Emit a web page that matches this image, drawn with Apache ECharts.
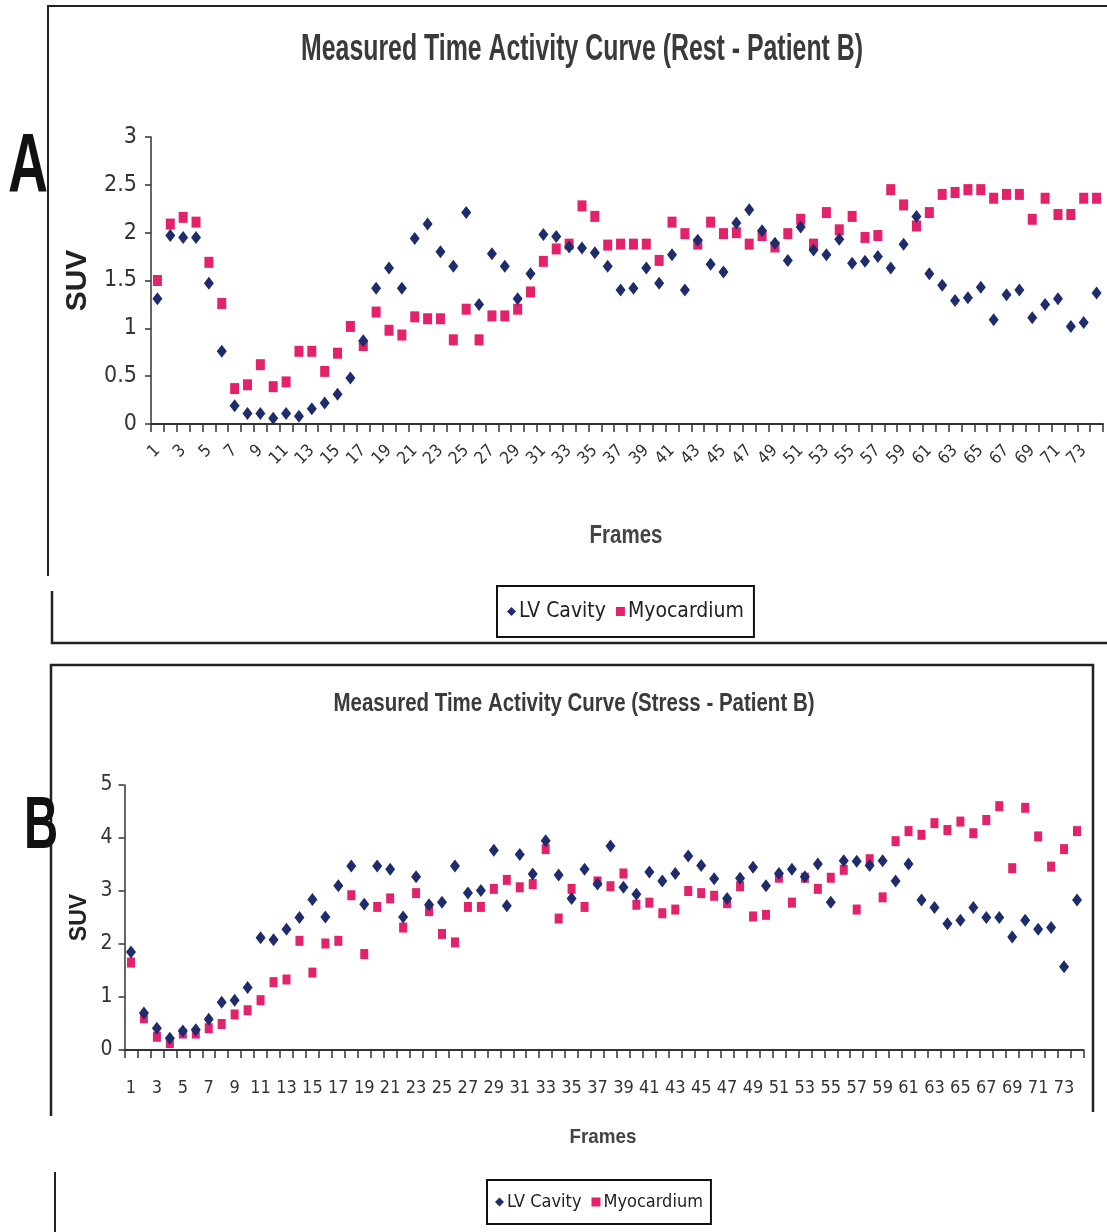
<!DOCTYPE html>
<html lang="en">
<head>
    <meta charset="UTF-8">
    <title>Measured Time Activity Curve - Patient B</title>
    <script src="https://cdn.jsdelivr.net/npm/echarts@6.0.0/dist/echarts.min.js"></script>
    <style>
        html, body { margin: 0; padding: 0; background: #fff; }
        #chart { width: 1107px; height: 1232px; }
    </style>
</head>
<body>
<div id="chart"></div>

<script>
    // frame numbers along the x axis (both panels)
    const frames = [1, 2, 3, 4, 5, 6, 7, 8, 9, 10, 11, 12, 13, 14, 15, 16, 17, 18, 19, 20,
        21, 22, 23, 24, 25, 26, 27, 28, 29, 30, 31, 32, 33, 34, 35, 36, 37, 38, 39, 40,
        41, 42, 43, 44, 45, 46, 47, 48, 49, 50, 51, 52, 53, 54, 55, 56, 57, 58, 59, 60,
        61, 62, 63, 64, 65, 66, 67, 68, 69, 70, 71, 72, 73, 74];

    const restTicks = [0, 0.5, 1, 1.5, 2, 2.5, 3];
    const stressTicks = [0, 1, 2, 3, 4, 5];

    // A: rest
    const restLV = [1.31, 1.97, 1.95, 1.95, 1.47, 0.76, 0.19, 0.11, 0.11, 0.06,
        0.11, 0.08, 0.16, 0.22, 0.31, 0.48, 0.87, 1.42, 1.63, 1.42,
        1.94, 2.09, 1.80, 1.65, 2.21, 1.25, 1.78, 1.65, 1.31, 1.57,
        1.98, 1.96, 1.85, 1.84, 1.79, 1.65, 1.40, 1.42, 1.63, 1.47,
        1.77, 1.40, 1.92, 1.67, 1.59, 2.10, 2.24, 2.02, 1.89, 1.71,
        2.06, 1.82, 1.77, 1.93, 1.68, 1.70, 1.75, 1.63, 1.88, 2.17,
        1.57, 1.45, 1.29, 1.32, 1.43, 1.09, 1.35, 1.40, 1.11, 1.25,
        1.31, 1.02, 1.06, 1.37];
    const restMyo = [1.50, 2.09, 2.16, 2.11, 1.69, 1.26, 0.37, 0.41, 0.62, 0.39,
        0.44, 0.76, 0.76, 0.55, 0.74, 1.02, 0.82, 1.17, 0.98, 0.93,
        1.12, 1.10, 1.10, 0.88, 1.20, 0.88, 1.13, 1.13, 1.20, 1.38,
        1.70, 1.83, 1.88, 2.28, 2.17, 1.87, 1.88, 1.88, 1.88, 1.71,
        2.11, 1.99, 1.88, 2.11, 1.99, 2.00, 1.88, 1.97, 1.85, 1.99,
        2.14, 1.88, 2.21, 2.03, 2.17, 1.95, 1.97, 2.45, 2.29, 2.07,
        2.21, 2.40, 2.42, 2.45, 2.45, 2.36, 2.40, 2.40, 2.14, 2.36,
        2.19, 2.19, 2.36, 2.36];

    // B: stress
    const stressLV = [1.85, 0.70, 0.41, 0.22, 0.36, 0.38, 0.58, 0.90, 0.94, 1.18,
        2.12, 2.08, 2.28, 2.50, 2.84, 2.51, 3.10, 3.47, 2.75, 3.47,
        3.41, 2.51, 3.27, 2.74, 2.79, 3.47, 2.96, 3.01, 3.77, 2.72,
        3.69, 3.32, 3.95, 3.30, 2.86, 3.41, 3.13, 3.85, 3.07, 2.94,
        3.36, 3.19, 3.33, 3.66, 3.48, 3.23, 2.86, 3.24, 3.45, 3.10,
        3.33, 3.41, 3.27, 3.51, 2.79, 3.57, 3.56, 3.48, 3.57, 3.19,
        3.51, 2.83, 2.69, 2.38, 2.45, 2.69, 2.50, 2.50, 2.13, 2.45,
        2.28, 2.31, 1.57, 2.83];
    const stressMyo = [1.65, 0.60, 0.25, 0.13, 0.31, 0.31, 0.41, 0.49, 0.67, 0.75,
        0.94, 1.28, 1.33, 2.06, 1.46, 2.01, 2.06, 2.92, 1.81, 2.70,
        2.86, 2.31, 2.96, 2.62, 2.19, 2.03, 2.70, 2.70, 3.04, 3.21,
        3.07, 3.13, 3.79, 2.48, 3.04, 2.70, 3.18, 3.09, 3.33, 2.74,
        2.78, 2.58, 2.65, 3.00, 2.96, 2.91, 2.77, 3.09, 2.52, 2.55,
        3.25, 2.78, 3.25, 3.04, 3.25, 3.40, 2.65, 3.60, 2.88, 3.94,
        4.13, 4.06, 4.28, 4.15, 4.31, 4.09, 4.34, 4.60, 3.43, 4.57,
        4.03, 3.46, 3.79, 4.13];

    const NAVY = '#1f2c6c';
    const PINK = '#e3226b';
    const INK = '#333';
    const NARROW = "'DejaVu Sans Condensed', 'Liberation Sans Narrow', sans-serif";
    const BOLD = "'Liberation Sans', Arial, sans-serif";

    const measureCtx = document.createElement('canvas').getContext('2d');

    /**
     * Squeezed bold text (the original uses a narrow bold face we don't have),
     * scaled horizontally so it spans the given width, centred on cx
     */
    function narrow_text(text, cx, top, size, width, fill) {
        const font = 'bold ' + size + 'px ' + BOLD;
        measureCtx.font = font;
        const w = measureCtx.measureText(text).width;
        return {
            type: 'text', x: cx, y: top, scaleX: width / w,
            style: {text: text, font: font, fill: fill, align: 'center', verticalAlign: 'middle'}
        };
    }

    /**
     * Category x axis in the old spreadsheet style: ticks on the boundaries,
     * every other frame labelled
     */
    function frame_axis(gridIndex, labelOpts) {
        return {
            type: 'category',
            gridIndex: gridIndex,
            data: frames,
            boundaryGap: true,
            axisLine: {lineStyle: {color: INK, width: 2}},
            axisTick: {show: true, interval: 0, length: 8, lineStyle: {color: INK, width: 1.5}},
            axisLabel: Object.assign({interval: 1, color: INK, fontFamily: NARROW}, labelOpts),
            splitLine: {show: false}
        };
    }

    function suv_axis(gridIndex, ticks, fontSize, margin, nameGap, nameSize) {
        return {
            type: 'value',
            gridIndex: gridIndex,
            min: ticks[0],
            max: ticks[ticks.length - 1],
            interval: ticks[1] - ticks[0],
            name: 'SUV',
            nameLocation: 'middle',
            nameRotate: 90,
            nameGap: nameGap,
            nameMoveOverlap: false,
            nameTextStyle: {fontFamily: BOLD, fontWeight: 'bold', fontSize: nameSize, color: '#222'},
            axisLine: {show: true, lineStyle: {color: INK, width: 1.5}},
            axisTick: {show: true, length: 6, lineStyle: {color: INK, width: 1.5}},
            axisLabel: {color: INK, fontFamily: NARROW, fontSize: fontSize, margin: margin},
            splitLine: {show: false}
        };
    }

    function dots(name, data, axisIndex, symbol, size, color) {
        return {
            name: name,
            type: 'scatter',
            xAxisIndex: axisIndex,
            yAxisIndex: axisIndex,
            data: data,
            symbol: symbol,
            symbolSize: size,
            itemStyle: {color: color, opacity: 1},
            z: symbol === 'diamond' ? 3 : 2
        };
    }

    function legend_box(left, top, fontSize, padding) {
        return {
            left: left,
            top: top,
            orient: 'horizontal',
            itemWidth: 9,
            itemHeight: 9,
            itemGap: 10,
            padding: padding,
            borderColor: '#111',
            borderWidth: 2,
            textStyle: {fontFamily: NARROW, fontSize: fontSize, color: '#222', padding: [0, 0, 0, -2]},
            data: [
                {name: 'LV Cavity', icon: 'diamond', itemStyle: {color: NAVY, opacity: 1}},
                {name: 'Myocardium', icon: 'rect', itemStyle: {color: PINK, opacity: 1}}
            ],
            selectedMode: false
        };
    }

    const myChart = echarts.init(document.getElementById('chart'));

    myChart.setOption({
        animation: false,
        backgroundColor: '#fff',
        legend: [
            legend_box(497, 586, 21, [15, 10, 15, 10]),
            legend_box(487, 1180, 18, [13, 8, 13, 8])
        ],
        grid: [
            {left: 151, top: 137, width: 952, height: 287},
            {left: 124.5, top: 785, width: 959, height: 265}
        ],
        xAxis: [
            frame_axis(0, {rotate: 45, fontSize: 17, margin: 24}),
            frame_axis(1, {fontSize: 18, margin: 29})
        ],
        yAxis: [
            suv_axis(0, restTicks, 23, 14, 58, 30),
            suv_axis(1, stressTicks, 21, 12, 33, 23)
        ],
        series: [
            dots('LV Cavity', restLV, 0, 'diamond', [10, 13], NAVY),
            dots('Myocardium', restMyo, 0, 'rect', [9, 11], PINK),
            dots('LV Cavity', stressLV, 1, 'diamond', [10, 13], NAVY),
            dots('Myocardium', stressMyo, 1, 'rect', [8, 10], PINK)
        ],
        graphic: [
            // panel frames, scanned with gaps in the left edge
            {type: 'polyline', shape: {points: [[1107, 6], [48, 6], [48, 576]]}, style: {stroke: '#222', lineWidth: 2, fill: null}},
            {type: 'polyline', shape: {points: [[52, 591], [52, 643], [1107, 643]]}, style: {stroke: '#222', lineWidth: 2.5, fill: null}},
            {type: 'polyline', shape: {points: [[51, 1116], [51, 665], [1093, 665], [1093, 1112]]}, style: {stroke: '#222', lineWidth: 2.5, fill: null}},
            {type: 'polyline', shape: {points: [[55, 1172], [55, 1232]]}, style: {stroke: '#222', lineWidth: 2, fill: null}},
            // titles and x axis names
            narrow_text('Measured Time Activity Curve (Rest - Patient B)', 582, 50, 37, 562, '#3a3a3a'),
            narrow_text('Measured Time Activity Curve (Stress - Patient B)', 574, 704, 25, 481, '#3a3a3a'),
            narrow_text('Frames', 626, 536, 26, 73, '#444'),
            narrow_text('Frames', 603, 1137, 21, 67, '#444'),
            // panel letters
            {
                type: 'text', x: 8, y: 127, scaleX: 0.66,
                style: {text: 'A', font: 'bold 84px ' + BOLD, fill: '#111'}
            },
            {
                type: 'text', x: 24, y: 791, scaleX: 0.64,
                style: {text: 'B', font: 'bold 74px ' + BOLD, fill: '#111'}
            }
        ]
    });
</script>
</body>
</html>
